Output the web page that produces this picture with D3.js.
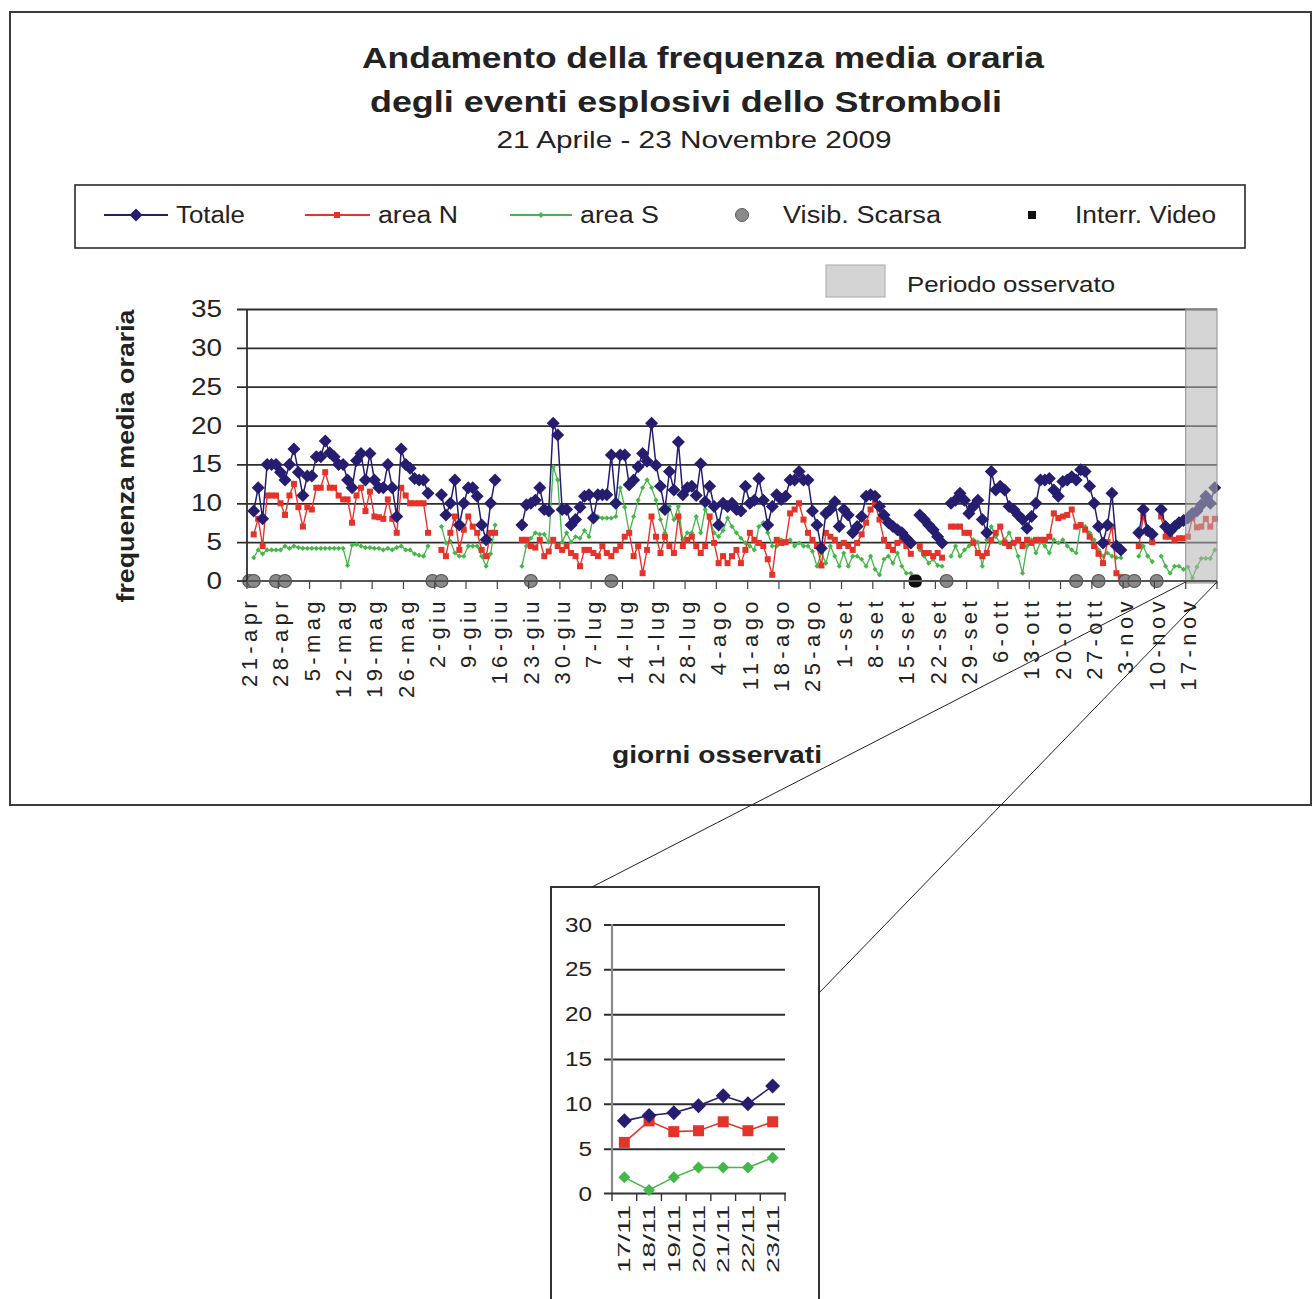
<!DOCTYPE html>
<html>
<head>
<meta charset="utf-8">
<script src="https://cdn.jsdelivr.net/npm/d3@7"></script>
<style>
  body { margin: 0; background: #fff; }
  svg { display: block; font-family: "Liberation Sans", Arial, sans-serif; }
</style>
</head>
<body>
<svg id="chart" width="1315" height="1299"></svg>
<script>
// Daily mean hourly frequency of explosive events, 21 Apr - 23 Nov 2009 (index 0 = 21 Apr)
const totale = [
  null, 9, 12, 8, 15, 15, 15, 14, 13, 15,
  17, 14, 11, 13.5, 13.5, 16, 16, 18, 16.5, 16,
  15, 15, 13, 12, 15.5, 16.4, 13, 16.4, 13, 12,
  12, 15, 12, 8.3, 17, 15, 14.5, 13.2, 13, 13,
  11.3, null, null, 11.1, 8.5, 10, 13, 7.2, 10, 12,
  12, 10.9, 7.2, 5.3, 10, 13, null, null, null, null,
  null, 7.2, 9.8, 10, 10.4, 12, 9.2, 9, 20.3, 18.8,
  9.2, 9.2, 7.2, 7.9, 9.5, 10.9, 11.1, 8.1, 11.1, 11.1,
  11.1, 16.2, 10, 16.2, 16.2, 12.4, 13, 14.7, 16.4, 15.4,
  20.3, 14.9, 12.2, 9.2, 14.1, 11.7, 17.9, 11.1, 12, 12.2,
  11, 15.1, 10.2, 12.2, 9.6, 7.2, 10, 9.6, 10, 9.2,
  9, 12.2, 10, 10.4, 13.2, 10.4, 7.2, 9.6, 11.1, 10.5,
  10.9, 13, 13, 14.1, 13, 13, 9, 7.2, 4.2, 8.7,
  9.2, 10.2, 7, 9.2, 8.5, 6.2, 7, 8.3, 10.9, 11.1,
  10.9, 9.6, 8.5, 7.5, 7, 6.6, 6.2, 5.5, 4.9, null,
  8.5, 7.9, 7.2, 6.6, 5.7, 4.9, null, 10, 10.4, 11.3,
  10.4, 8.7, 9.6, 10.4, 7.9, 6.2, 14.1, 11.7, 12.2, 11.7,
  9.6, 9.2, 8.5, 7.9, 6.8, 8.3, 10, 13, 13, 13.2,
  11.7, 10.9, 12.8, 13, 13.4, 13, 14.3, 14.1, 12.2, 10,
  7, 4.9, 7.2, 11.3, 4.5, 4, null, null, null, 6.2,
  9.2, 6.5, 6, null, 9.2, 7, 6.4, 7, 7.5, 7.8,
  8.1, 8.7, 9, 9.8, 10.9, 10, 12
];
const areaN = [
  null, 6, 8, 4.5, 11, 11, 11, 10, 8.5, 11,
  12.5, 9.5, 7, 9.5, 9.2, 12, 12, 14, 12, 12,
  11, 10.5, 10.5, 7.5, 11, 12, 9, 11.5, 8.3, 8.2,
  8, 10.5, 8, 6.2, 12, 11, 10, 10, 10, 10,
  6.2, null, null, 4, 3.2, 6.2, 8.3, 4, 6.6, 8.3,
  7, 6.2, 4, 3.2, 6.2, 6.2, null, null, null, null,
  null, 5.3, 5.3, 4.5, 4.3, 5.3, 3.2, 3.8, 5.3, 4.5,
  4, 4.5, 3.6, 3.2, 1.9, 4, 4, 3.6, 3.2, 4.5,
  3.6, 3.2, 4, 4.5, 5.7, 6.2, 3.2, 4.5, 1, 4,
  8.3, 5.7, 3.6, 5.7, 4.5, 3.6, 8.3, 4.5, 5.3, 5.7,
  4.5, 3.6, 4.5, 8.3, 4.9, 2.3, 3.2, 2.3, 3.2, 4,
  2.3, 4, 6.2, 5.3, 4.9, 4.5, 2.8, 0.8, 5.3, 4.9,
  5, 8.7, 9.2, 10, 7.9, 6.2, 5.3, 4.5, 2, 6.2,
  5.7, 5.3, 4.5, 4.9, 4.5, 4, 4.9, 6, 7.5, 9.2,
  10, 7.9, 5.3, 4.5, 4, 4.9, 5.3, 4.5, 3.5, null,
  4.5, 3.6, 3.6, 3.2, 3.6, 3, null, 7, 7, 7,
  6.2, 6.2, 4.9, 3.6, 3.2, 3.6, 5.3, 6.2, 7, 4.9,
  4.5, 4.9, 5.3, 4.5, 5.3, 4.9, 5.3, 5.3, 5.3, 5.7,
  8.7, 8.1, 8.3, 8.5, 9.2, 7, 7.2, 6.6, 5.7, 4.5,
  3.5, 2.3, 5, 7, 1, 0.5, null, null, null, 4.5,
  8.3, 6.2, 5, null, 8.3, 5.7, 5.7, 5.3, 5.5, 5.5,
  5.7, 8.1, 6.9, 7, 8, 7, 8
];
const areaS = [
  null, 3, 4, 3.5, 4, 4, 4, 4, 4.5, 4.2,
  4.5, 4.3, 4.2, 4.2, 4.2, 4.2, 4.2, 4.2, 4.2, 4.2,
  4.2, 4.2, 2, 4.6, 4.7, 4.5, 4.3, 4.3, 4.2, 4.2,
  4, 4.2, 4, 4.3, 4.5, 4, 4, 3.5, 3.3, 3.2,
  4.5, null, null, 7, 4.9, 5.1, 3.6, 3.2, 3.2, 4.5,
  4.5, 4.5, 3.2, 1.9, 3.5, 7.2, null, null, null, null,
  null, 1.9, 4.5, 5.5, 6.2, 6, 6, 5, 14.7, 13,
  5, 6.2, 5, 5.7, 5.5, 6.5, 5.7, 8.3, 8.3, 8.1,
  8.1, 8.1, 8.3, 12, 9.5, 6.2, 8.3, 10.4, 12, 13,
  12, 10.4, 7.9, 6.2, 9.6, 7.9, 9.6, 5.3, 6.2, 6.2,
  8.3, 6.2, 9.2, 7.9, 6.2, 5.7, 6.5, 8.1, 7, 6.2,
  5.5, 4.9, 4.5, 4, 7, 7.5, 6.2, 4.5, 4.5, 5.3,
  4.9, 5.3, 4.5, 4.9, 4.5, 4.5, 3.8, 1.9, 3.6, 2.3,
  4.5, 3.2, 1.9, 3.6, 1.9, 3.2, 3.2, 2.8, 1.9, 3.2,
  1.5, 0.8, 2.8, 3.2, 2.3, 3.6, 1.9, 1, 1, null,
  4, 3.2, 2.3, 2.8, 2, 1.9, null, 3.2, 4.5, 3.2,
  4, 4.5, 5.3, 5, 1.9, 5.3, 7, 5.7, 4.9, 5.3,
  6.2, 4.9, 3.2, 1, 4.5, 5.3, 3.6, 5, 4.5, 3.6,
  5.3, 4.9, 5.3, 4.5, 4, 3.6, 7.2, 7, 6.2, 5.3,
  4, 3.2, 3.6, 3.2, 3, 3, null, null, null, 3.2,
  4.5, 3.2, 2.5, null, 3.2, 1.9, 1, 1.9, 1.9, 1.5,
  1.8, 0.4, 1.8, 2.9, 2.9, 2.9, 4
];
// days with poor visibility / video interruption (day index)
const visibScarsa = [0, 1, 6, 8, 41, 43, 63, 81, 156, 185, 190, 196, 198, 203];
const interrVideo = [149];
// weekly category labels
const tickLabels = ["21-apr","28-apr","5-mag","12-mag","19-mag","26-mag","2-giu","9-giu","16-giu",
  "23-giu","30-giu","7-lug","14-lug","21-lug","28-lug","4-ago","11-ago","18-ago","25-ago",
  "1-set","8-set","15-set","22-set","29-set","6-ott","13-ott","20-ott","27-ott","3-nov","10-nov","17-nov"];
const yTicks = [0, 5, 10, 15, 20, 25, 30, 35];
// observed period (inset)
const insetDays = ["17/11","18/11","19/11","20/11","21/11","22/11","23/11"];
const insetTotale = [8.1, 8.7, 9, 9.8, 10.9, 10, 12];
const insetN = [5.7, 8.1, 6.9, 7, 8, 7, 8];
const insetS = [1.8, 0.4, 1.8, 2.9, 2.9, 2.9, 4];
const insetYTicks = [0, 5, 10, 15, 20, 25, 30];

const C_TOT = "#251d70", C_N = "#e5332a", C_S = "#45b649";
const svg = d3.select("#chart");

function label(g, s, x, y, o = {}) {
  const t = g.append("text").attr("x", x).attr("y", y).text(s)
    .attr("font-size", o.size || 22).attr("fill", o.fill || "#222")
    .attr("font-weight", o.bold ? "bold" : "normal")
    .attr("text-anchor", o.anchor || "start");
  if (o.len) t.attr("textLength", o.len).attr("lengthAdjust", "spacingAndGlyphs");
  if (o.rotate) t.attr("transform", `rotate(${o.rotate},${x},${y})`);
  if (o.ls) t.attr("letter-spacing", o.ls);
  return t;
}
const diamond = r => `M0,${-r}L${r},0L0,${r}L${-r},0Z`;

// outer frame
svg.append("rect").attr("x", 10).attr("y", 12).attr("width", 1301).attr("height", 793)
  .attr("fill", "#fff").attr("stroke", "#3c3c3c").attr("stroke-width", 2);

// titles
label(svg, "Andamento della frequenza media oraria", 703, 68, {size: 30, bold: true, anchor: "middle", len: 682});
label(svg, "degli eventi esplosivi dello Stromboli", 686, 112, {size: 30, bold: true, anchor: "middle", len: 632});
label(svg, "21 Aprile - 23 Novembre 2009", 694, 148, {size: 24, anchor: "middle", len: 395});

// legend
const lg = svg.append("g");
lg.append("rect").attr("x", 75).attr("y", 185).attr("width", 1170).attr("height", 63)
  .attr("fill", "#fff").attr("stroke", "#2a2a2a").attr("stroke-width", 1.6);
const ly = 215;
lg.append("line").attr("x1", 104).attr("x2", 168).attr("y1", ly).attr("y2", ly).attr("stroke", C_TOT).attr("stroke-width", 2);
lg.append("path").attr("d", diamond(6.5)).attr("transform", `translate(136,${ly})`).attr("fill", C_TOT);
label(lg, "Totale", 176, 223, {size: 23, len: 69});
lg.append("line").attr("x1", 305).attr("x2", 370).attr("y1", ly).attr("y2", ly).attr("stroke", C_N).attr("stroke-width", 2);
lg.append("rect").attr("x", 334).attr("y", ly - 3).attr("width", 6).attr("height", 6).attr("fill", C_N);
label(lg, "area N", 378, 223, {size: 23, len: 80});
lg.append("line").attr("x1", 510).attr("x2", 572).attr("y1", ly).attr("y2", ly).attr("stroke", C_S).attr("stroke-width", 2);
lg.append("path").attr("d", diamond(3)).attr("transform", `translate(541,${ly})`).attr("fill", C_S);
label(lg, "area S", 580, 223, {size: 23, len: 79});
lg.append("circle").attr("cx", 742).attr("cy", ly).attr("r", 6.5).attr("fill", "#8a8a8a").attr("stroke", "#5a5a5a");
label(lg, "Visib. Scarsa", 783, 223, {size: 23, len: 158});
lg.append("rect").attr("x", 1028).attr("y", ly - 4).attr("width", 8).attr("height", 8).attr("fill", "#111");
label(lg, "Interr. Video", 1075, 223, {size: 23, len: 141});
svg.append("rect").attr("x", 826).attr("y", 265).attr("width", 59).attr("height", 32)
  .attr("fill", "#d4d4d4").attr("stroke", "#a8a8a8");
label(svg, "Periodo osservato", 907, 292, {size: 22, len: 208});

// main plot
const pL = 247, pR = 1217, pT = 309, pB = 581;
const x = d3.scaleBand().domain(d3.range(totale.length)).range([pL, pR]);
const cx = i => x(i) + x.bandwidth() / 2;
const y = d3.scaleLinear().domain([0, 35]).range([pB, pT]);
const plot = svg.append("g");

// gridlines
plot.append("g").attr("transform", `translate(${pL},0)`)
  .call(d3.axisLeft(y).tickValues(yTicks.slice(1)).tickSize(-(pR - pL)).tickFormat(""))
  .call(g => g.select(".domain").remove())
  .call(g => g.selectAll("line").attr("x1", -10).attr("x2", pR - pL).attr("stroke", "#2e2e2e").attr("stroke-width", 1.8));

const lineGen = d3.line().defined(d => d != null).x((d, i) => cx(i)).y(d => y(d));
function series(data, color, lw, marker) {
  const g = plot.append("g");
  g.append("path").datum(data).attr("d", lineGen).attr("fill", "none").attr("stroke", color).attr("stroke-width", lw);
  const pts = data.map((v, i) => ({v, i})).filter(d => d.v != null);
  marker(g.selectAll("x").data(pts).enter(), color);
}
series(areaS, C_S, 1.3, (sel, c) => sel.append("path").attr("d", diamond(2.6))
  .attr("transform", d => `translate(${cx(d.i)},${y(d.v)})`).attr("fill", c));
series(areaN, C_N, 1.4, (sel, c) => sel.append("rect").attr("x", d => cx(d.i) - 3).attr("y", d => y(d.v) - 3)
  .attr("width", 6).attr("height", 6).attr("fill", c));
series(totale, C_TOT, 1.5, (sel, c) => sel.append("path").attr("d", diamond(6.5))
  .attr("transform", d => `translate(${cx(d.i)},${y(d.v)})`).attr("fill", c));

// poor visibility / video interruption markers
plot.selectAll(".vs").data(visibScarsa).enter().append("circle")
  .attr("cx", d => cx(d)).attr("cy", y(0)).attr("r", 6.5).attr("fill", "#8a8a8a").attr("stroke", "#555").attr("stroke-width", 1.2);
plot.selectAll(".iv").data(interrVideo).enter().append("rect")
  .attr("x", d => cx(d) - 6.5).attr("y", y(0) - 6.5).attr("width", 13).attr("height", 13).attr("rx", 5)
  .attr("fill", "#0c0c0c");

// observed period band
const bandX = x(totale.length - insetDays.length);
plot.append("rect").attr("x", bandX).attr("y", pT).attr("width", pR - bandX).attr("height", pB - pT + 2)
  .attr("fill", "#b2b2b2").attr("fill-opacity", 0.55).attr("stroke", "#8c8c8c").attr("stroke-width", 1);

// y axis
plot.append("line").attr("x1", pL).attr("x2", pL).attr("y1", pT).attr("y2", pB).attr("stroke", "#2e2e2e").attr("stroke-width", 1.8);
plot.append("line").attr("x1", pL - 10).attr("x2", pL).attr("y1", pB).attr("y2", pB).attr("stroke", "#2e2e2e").attr("stroke-width", 1.8);
yTicks.forEach(v => label(plot, String(v), 222, y(v) + 8, {size: 24, anchor: "end", len: String(v).length * 15.5}));
label(svg, "frequenza media oraria", 134, 456, {size: 23, bold: true, anchor: "middle", len: 293, rotate: -90});

// x axis
plot.append("line").attr("x1", pL).attr("x2", pR).attr("y1", pB).attr("y2", pB).attr("stroke", "#555").attr("stroke-width", 2);
const weekStarts = d3.range(0, totale.length, 7);
plot.selectAll(".xt").data(weekStarts.concat([totale.length])).enter().append("line")
  .attr("x1", d => d < totale.length ? x(d) : pR).attr("x2", d => d < totale.length ? x(d) : pR)
  .attr("y1", pB).attr("y2", pB + 8).attr("stroke", "#444").attr("stroke-width", 1.2);
weekStarts.forEach((d, k) => {
  const t = label(plot, tickLabels[k], cx(d), 597, {size: 22, anchor: "end", ls: 4.4, rotate: -90});
  t.attr("dy", "0.36em");
});
label(svg, "giorni osservati", 717, 763, {size: 24, bold: true, anchor: "middle", len: 210});

// inset: observed week
const inset = svg.append("g");
inset.append("rect").attr("x", 551).attr("y", 887).attr("width", 268).attr("height", 430)
  .attr("fill", "#fff").attr("stroke", "#333").attr("stroke-width", 2);
const xi = d3.scaleBand().domain(insetDays).range([612, 785]);
const cxi = d => xi(d) + xi.bandwidth() / 2;
const yi = d3.scaleLinear().domain([0, 30]).range([1193.5, 924.5]);
inset.append("g").attr("transform", "translate(612,0)")
  .call(d3.axisLeft(yi).tickValues(insetYTicks.slice(1)).tickSize(-173).tickFormat(""))
  .call(g => g.select(".domain").remove())
  .call(g => g.selectAll("line").attr("x1", -8).attr("x2", 173).attr("stroke", "#2e2e2e").attr("stroke-width", 2));
inset.append("line").attr("x1", 612).attr("x2", 612).attr("y1", 924).attr("y2", 1194).attr("stroke", "#8a8a8a").attr("stroke-width", 2.2);
inset.append("line").attr("x1", 604).attr("x2", 786).attr("y1", 1193.5).attr("y2", 1193.5).attr("stroke", "#333").attr("stroke-width", 2);
inset.selectAll(".ixt").data(d3.range(insetDays.length + 1)).enter().append("line")
  .attr("x1", d => 612 + d * xi.bandwidth()).attr("x2", d => 612 + d * xi.bandwidth())
  .attr("y1", 1193.5).attr("y2", 1201).attr("stroke", "#333").attr("stroke-width", 1.4);
insetYTicks.forEach(v => label(inset, String(v), 592, yi(v) + 7, {size: 20, anchor: "end", len: String(v).length * 13.5}));
insetDays.forEach(d => {
  const t = label(inset, d, cxi(d), 1205, {size: 17, anchor: "end", len: 68, rotate: -90});
  t.attr("dy", "0.36em");
});
const li = d3.line().x((d, i) => cxi(insetDays[i])).y(d => yi(d));
inset.append("path").datum(insetS).attr("d", li).attr("fill", "none").attr("stroke", C_S).attr("stroke-width", 1.6);
inset.append("path").datum(insetN).attr("d", li).attr("fill", "none").attr("stroke", C_N).attr("stroke-width", 1.6);
inset.append("path").datum(insetTotale).attr("d", li).attr("fill", "none").attr("stroke", C_TOT).attr("stroke-width", 1.6);
inset.selectAll(".is").data(insetS).enter().append("path").attr("d", diamond(6))
  .attr("transform", (d, i) => `translate(${cxi(insetDays[i])},${yi(d)})`).attr("fill", C_S);
inset.selectAll(".in").data(insetN).enter().append("rect")
  .attr("x", (d, i) => cxi(insetDays[i]) - 5.5).attr("y", d => yi(d) - 5.5).attr("width", 11).attr("height", 11).attr("fill", C_N);
inset.selectAll(".it").data(insetTotale).enter().append("path").attr("d", diamond(7.5))
  .attr("transform", (d, i) => `translate(${cxi(insetDays[i])},${yi(d)})`).attr("fill", C_TOT);

// connectors from observed period to inset
svg.append("line").attr("x1", bandX).attr("y1", pB + 1).attr("x2", 592).attr("y2", 887)
  .attr("stroke", "#222").attr("stroke-width", 1);
svg.append("line").attr("x1", pR).attr("y1", pB + 1).attr("x2", 819).attr("y2", 993)
  .attr("stroke", "#222").attr("stroke-width", 1);
</script>
</body>
</html>
